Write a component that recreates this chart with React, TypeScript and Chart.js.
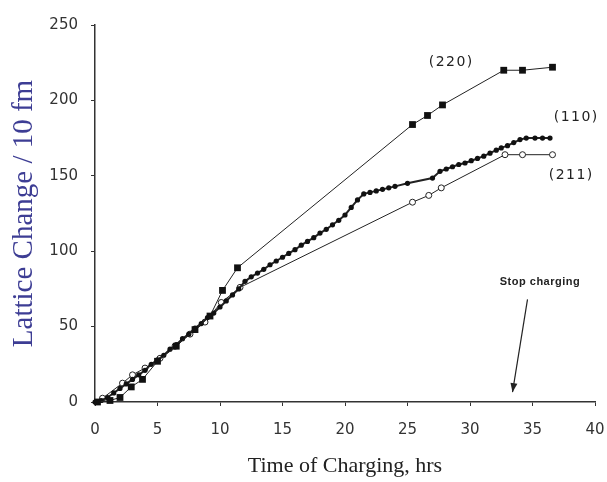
import React, { useEffect, useRef } from 'react';
import { Chart, registerables } from 'chart.js';

Chart.register(...registerables);

// ---- Data ----
const x220 = [0.2, 1.2, 2.0, 2.9, 3.8, 5.0, 6.5, 8.0, 9.2, 10.2, 11.4, 25.4, 26.6, 27.8, 32.7, 34.2, 36.6];
const y220 = [0, 1, 3, 10, 15, 27, 37, 48, 57, 74, 89, 184, 190, 197, 220, 220, 222];

const x110 = [0, 0.5, 1, 1.5, 2, 2.5, 3, 3.5, 4, 4.5, 5, 5.5, 6, 6.5, 7, 7.5, 8, 8.5, 9, 9.5, 10, 10.5, 11, 11.5, 12, 12.5, 13, 13.5, 14, 14.5, 15, 15.5, 16, 16.5, 17, 17.5, 18, 18.5, 19, 19.5, 20, 20.5, 21, 21.5, 22, 22.5, 23, 23.5, 24, 25, 27, 27.6, 28.1, 28.6, 29.1, 29.6, 30.1, 30.6, 31.1, 31.6, 32.1, 32.5, 33, 33.5, 34, 34.5, 35.2, 35.8, 36.4];
const y110 = [0, 1, 3, 6, 9, 12, 15, 18, 21, 25, 28, 31, 35, 38, 42, 45, 49, 52, 56, 59, 63, 67, 71, 75, 80, 83, 85.5, 88, 91, 93.5, 96, 98.5, 101, 104, 106.5, 109, 112, 114.5, 117.5, 120.5, 124, 129, 134, 138, 139, 140, 141, 142, 143, 145, 148.5, 153, 154.5, 156, 157.5, 158.5, 160, 161.5, 163, 165, 167, 168.5, 170, 172, 174, 175, 175, 175, 175];

const x211 = [0.6, 2.2, 3.0, 4.0, 5.2, 6.4, 7.6, 8.8, 10.1, 11.6, 25.4, 26.7, 27.7, 32.8, 34.2, 36.6];
const y211 = [2.5, 12.5, 18, 22.5, 29, 37, 45, 53, 66, 76, 132.5, 137, 142, 164, 164, 164];

const seriesNames = ['(220)', '(110)', '(211)'];
// label anchors in data coordinates
const labelX = [28.5, 38.5, 38.1];
const labelY = [225, 189, 150.5];

const stopText = 'Stop charging';
const stopTextAt = { x: 35.6, y: 79.5 };
const stopArrowFrom = { x: 34.6, y: 68 };
const stopArrowTo = { x: 33.4, y: 6.5 };

const xMin = 0, xMax = 40, xStep = 5;
const yMin = 0, yMax = 250, yStep = 50;

const xTitle = 'Time of Charging, hrs';
const yTitle = 'Lattice Change / 10 fm';

const toPts = (xs: number[], ys: number[]) => xs.map((x, i) => ({ x, y: ys[i] }));

const annotationPlugin = {
  id: 'refAnnotations',
  afterDatasetsDraw(chart: any) {
    const { ctx, scales } = chart;
    const xs = scales.x, ys = scales.y;
    ctx.save();
    ctx.fillStyle = '#222';
    ctx.textAlign = 'center';
    ctx.textBaseline = 'middle';
    ctx.font = '14px "DejaVu Sans"';
    try { (ctx as any).letterSpacing = '1.5px'; } catch (e) {}
    seriesNames.forEach((t, i) => {
      ctx.fillText(t, xs.getPixelForValue(labelX[i]), ys.getPixelForValue(labelY[i]));
    });
    try { (ctx as any).letterSpacing = '0.5px'; } catch (e) {}
    ctx.font = 'bold 11px "Liberation Sans"';
    ctx.fillStyle = '#222';
    ctx.fillText(stopText, xs.getPixelForValue(stopTextAt.x), ys.getPixelForValue(stopTextAt.y));
    // arrow
    const x0 = xs.getPixelForValue(stopArrowFrom.x), y0 = ys.getPixelForValue(stopArrowFrom.y);
    const x1 = xs.getPixelForValue(stopArrowTo.x), y1 = ys.getPixelForValue(stopArrowTo.y);
    ctx.strokeStyle = '#222';
    ctx.lineWidth = 1.2;
    ctx.beginPath();
    ctx.moveTo(x0, y0);
    ctx.lineTo(x1, y1);
    ctx.stroke();
    const ang = Math.atan2(y1 - y0, x1 - x0);
    const hl = 9, hw = 3.5;
    ctx.beginPath();
    ctx.moveTo(x1, y1);
    ctx.lineTo(x1 - hl * Math.cos(ang) + hw * Math.sin(ang), y1 - hl * Math.sin(ang) - hw * Math.cos(ang));
    ctx.lineTo(x1 - hl * Math.cos(ang) - hw * Math.sin(ang), y1 - hl * Math.sin(ang) + hw * Math.cos(ang));
    ctx.closePath();
    ctx.fillStyle = '#222';
    ctx.fill();
    ctx.restore();
  },
};

export default function App() {
  const ref = useRef<HTMLCanvasElement>(null);
  useEffect(() => {
    document.body.style.margin = '0';
    if (!ref.current) return;
    const tickFont = { family: '"DejaVu Sans"', size: 15 };
    const chart = new Chart(ref.current, {
      type: 'line',
      data: {
        datasets: [
          {
            label: seriesNames[0],
            data: toPts(x220, y220),
            borderColor: '#222',
            borderWidth: 1,
            pointStyle: 'rect',
            pointRadius: 4.8,
            pointBackgroundColor: '#111',
            pointBorderColor: '#111',
            pointBorderWidth: 0,
            clip: false,
          } as any,
          {
            label: seriesNames[1],
            data: toPts(x110, y110),
            borderColor: '#222',
            borderWidth: 2,
            pointStyle: 'circle',
            pointRadius: 2.6,
            pointBackgroundColor: '#111',
            pointBorderColor: '#111',
            pointBorderWidth: 0,
            clip: false,
          } as any,
          {
            label: seriesNames[2],
            data: toPts(x211, y211),
            borderColor: '#222',
            borderWidth: 1,
            pointStyle: 'circle',
            pointRadius: 3,
            pointBackgroundColor: '#fff',
            pointBorderColor: '#222',
            pointBorderWidth: 1,
            clip: false,
          } as any,
        ],
      },
      options: {
        responsive: false,
        animation: false,
        devicePixelRatio: 1,
        layout: { padding: { left: 0, right: 12, top: 25, bottom: 0 } },
        plugins: { legend: { display: false }, tooltip: { enabled: false } },
        scales: {
          x: {
            type: 'linear',
            min: xMin,
            max: xMax,
            ticks: { stepSize: xStep, font: tickFont, color: '#333', padding: 15, maxRotation: 0 },
            grid: { drawOnChartArea: false, drawTicks: true, tickLength: 4, color: '#333' },
            border: { display: true, color: '#333', width: 1.5 },
            title: {
              display: true,
              text: xTitle,
              font: { family: '"Liberation Serif"', size: 22 },
              color: '#222',
              padding: { top: 0, bottom: 3 },
            },
            afterFit: (s: any) => { s.height = 80; s.paddingRight = 0; s.paddingLeft = 0; },
          },
          y: {
            type: 'linear',
            min: yMin,
            max: yMax,
            ticks: { stepSize: yStep, font: tickFont, color: '#333', padding: 13 },
            grid: { drawOnChartArea: false, drawTicks: true, tickLength: 4, color: '#333' },
            border: { display: true, color: '#333', width: 1.5 },
            title: {
              display: true,
              text: yTitle,
              font: { family: '"Liberation Serif"', size: 29 },
              color: '#3d3d94',
              padding: { top: 7, bottom: 0 },
            },
            afterFit: (s: any) => { s.width = 95; s.paddingTop = 0; s.paddingBottom = 0; },
          },
        },
      },
      plugins: [annotationPlugin],
    } as any);
    return () => chart.destroy();
  }, []);
  return <canvas ref={ref} width={607} height={482} style={{ display: 'block' }} />;
}
